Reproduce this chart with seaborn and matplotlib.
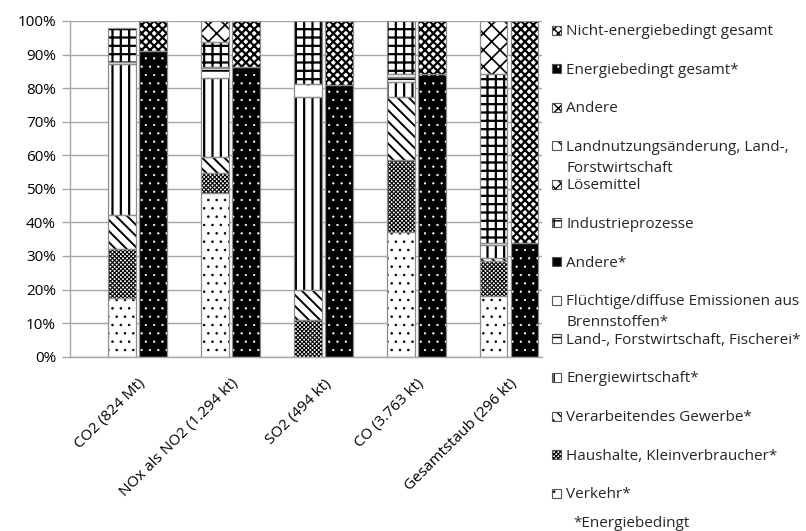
import numpy as np
import matplotlib
matplotlib.use("Agg")
import matplotlib.pyplot as plt
from matplotlib.patches import Rectangle
import seaborn as sns

categories = ["CO2 (824 Mt)", "NOx als NO2 (1.294 kt)", "SO2 (494 kt)",
              "CO (3.763 kt)", "Gesamtstaub (296 kt)"]

# Shares in percent, left bar of each pair, stacked bottom to top
verkehr = [17.6, 48.7, 0.0, 37.2, 18.2]
haushalte = [14.4, 5.9, 10.9, 21.4, 10.3]
verarbeitendes = [10.2, 5.0, 9.0, 18.9, 0.8]
energiewirtschaft = [44.9, 23.3, 57.6, 4.4, 4.0]
land_forst_fischerei = [0.0, 3.0, 0.0, 1.5, 0.0]
fluechtige = [0.8, 0.5, 3.7, 0.7, 0.5]
andere_energie = [0.0, 0.0, 0.0, 0.0, 0.0]
industrieprozesse = [10.1, 7.2, 18.7, 15.9, 50.3]
loesemittel = [0.0, 0.0, 0.0, 0.0, 0.0]
landnutzung = [0.0, 0.0, 0.0, 0.0, 0.0]
andere = [0.0, 6.4, 0.0, 0.0, 15.9]

# Right bar of each pair
energie_gesamt = [91.1, 86.4, 80.9, 84.1, 33.8]
nicht_energie_gesamt = [8.9, 13.6, 19.1, 15.9, 66.2]

legend_labels = [
    "Nicht-energiebedingt gesamt",
    "Energiebedingt gesamt*",
    "Andere",
    "Landnutzungsänderung, Land-,\nForstwirtschaft",
    "Lösemittel",
    "Industrieprozesse",
    "Andere*",
    "Flüchtige/diffuse Emissionen aus\nBrennstoffen*",
    "Land-, Forstwirtschaft, Fischerei*",
    "Energiewirtschaft*",
    "Verarbeitendes Gewerbe*",
    "Haushalte, Kleinverbraucher*",
    "Verkehr*",
]
footnote = "*Energiebedingt"

sns.set_theme(style="white")
plt.rcParams["font.family"] = ["Open Sans", "DejaVu Sans"]

FS = 11
EDGE = "#8c8c8c"

# (values, hatch, facecolor, hatch colour, hatch line width)
left_layers = [
    (verkehr, "..", "white", "black", 0.6),
    (haushalte, "xxxxxxxx", "white", "black", 0.8),
    (verarbeitendes, "\\\\\\", "white", "black", 1.4),
    (energiewirtschaft, "||", "white", "black", 1.6),
    (land_forst_fischerei, "--", "white", "black", 1.3),
    (fluechtige, ".", "white", "black", 0.8),
    (andere_energie, "", "black", "black", 1.0),
    (industrieprozesse, "++", "white", "black", 1.6),
    (loesemittel, "xxx", "white", "black", 2.0),
    (landnutzung, "\\\\", "white", "black", 1.0),
    (andere, "xx", "white", "black", 1.2),
]
right_layers = [
    (energie_gesamt, "..", "black", "white", 0.4),
    (nicht_energie_gesamt, "xxxx", "white", "black", 1.6),
]


def set_hatch_width(patches, lw):
    for p in patches:
        if hasattr(p, "set_hatch_linewidth"):
            p.set_hatch_linewidth(lw)


fig = plt.figure(figsize=(8.06, 5.31), dpi=100)
W, H = 806, 531
ax = fig.add_axes([70 / W, 1 - 356.7 / H, (542 - 70) / W, (356.7 - 21) / H])

x = np.arange(len(categories))
width = 0.30
offset = 0.167


def stack(ax, xpos, layers):
    bottom = np.zeros(len(xpos))
    for vals, hatch, fc, hc, hlw in layers:
        vals = np.asarray(vals, dtype=float)
        m = vals > 0
        if m.any():
            with plt.rc_context({"hatch.linewidth": hlw}):
                bars = ax.bar(xpos[m], vals[m], width, bottom=bottom[m], facecolor=fc,
                              edgecolor=hc, linewidth=0, hatch=hatch, zorder=2)
            set_hatch_width(bars, hlw)
            ax.bar(xpos[m], vals[m], width, bottom=bottom[m], fill=False,
                   edgecolor=EDGE, linewidth=0.9, zorder=3)
        bottom += vals


stack(ax, x - offset, left_layers)
stack(ax, x + offset, right_layers)

ax.set_xlim(-0.731, 4.356)
ax.set_ylim(0, 100)
ax.set_yticks(np.arange(0, 101, 10))
ax.set_yticklabels([f"{v}%" for v in range(0, 101, 10)], fontsize=FS, color="black")
ax.yaxis.grid(True, color="#a6a6a6", linewidth=1.0, zorder=0)
ax.set_axisbelow(True)
ax.tick_params(axis="y", length=6, width=1, color="#a6a6a6", pad=4, left=True)
ax.set_xticks(x)
ax.set_xticklabels(categories, rotation=45, ha="right", rotation_mode="anchor",
                   fontsize=FS, color="black")
ax.tick_params(axis="x", length=0, pad=14)
for side in ["top", "right"]:
    ax.spines[side].set_visible(False)
for side in ["left", "bottom"]:
    ax.spines[side].set_color("#a6a6a6")
    ax.spines[side].set_linewidth(1.0)

# Legend drawn as a column of swatches and labels
legend_styles = [right_layers[1], right_layers[0]] + left_layers[::-1]
y0, pitch, line_gap = 30, 38.6, 21
for i, (lab, (vals, hatch, fc, hc, hlw)) in enumerate(zip(legend_labels, legend_styles)):
    yc = y0 + i * pitch
    with plt.rc_context({"hatch.linewidth": min(hlw, 1.0)}):
        sw = Rectangle((552 / W, 1 - (yc + 4.5) / H), 9 / W, 9 / H,
                       transform=fig.transFigure, facecolor=fc,
                       edgecolor=hc, hatch=hatch, linewidth=0)
    set_hatch_width([sw], min(hlw, 1.0))
    fig.patches.append(sw)
    fig.patches.append(Rectangle((552 / W, 1 - (yc + 4.5) / H), 9 / W, 9 / H,
                                 transform=fig.transFigure, fill=False,
                                 edgecolor="#555555", linewidth=0.8))
    for k, line in enumerate(lab.split("\n")):
        fig.text(566 / W, 1 - (yc + 5 + k * line_gap) / H, line, fontsize=FS,
                 va="baseline", ha="left")
fig.text(573 / W, 1 - (521.7 + 5) / H, footnote, fontsize=FS, va="baseline", ha="left")

fig.savefig("out.png", dpi=100)
